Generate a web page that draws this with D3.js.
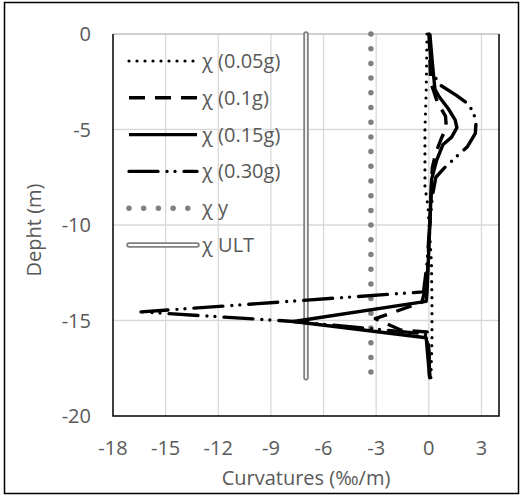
<!DOCTYPE html>
<html>
<head>
<meta charset="utf-8">
<script src="https://cdn.jsdelivr.net/npm/d3@7"></script>
<style>
  body { margin: 0; background: #fff; }
  text { font-family: "Open Sans", sans-serif; fill: #595959; }
</style>
</head>
<body>
<svg id="chart" width="523" height="497"></svg>
<script>
// depths (m) and curvatures (‰/m) per intensity
var depth005 = [0, -3, -5, -8, -9, -12, -14, -16, -18];
var curv005  = [-0.1, -0.15, -0.22, -0.22, -0.05, 0.15, 0.18, 0.18, 0.12];

var depth01 = [0, -2.5, -3.6, -4.3, -4.9, -5.5, -6.2, -7, -9, -13, -14.05, -14.9, -15.5, -15.6, -16.5, -18];
var curv01  = [0.02, 0.1, 0.5, 0.95, 1.0, 0.7, 0.4, 0.2, 0.1, -0.1, -0.4, -3.05, -1.6, -0.1, 0, 0.05];

var depth015 = [0, -1.5, -2.9, -3.3, -3.9, -4.5, -4.9, -5.4, -5.8, -6.6, -7.6, -9, -13.5, -14, -15.05, -15.9, -18];
var curv015  = [0.06, 0.2, 0.35, 0.6, 1.1, 1.5, 1.6, 1.3, 0.8, 0.45, 0.16, 0.1, -0.1, -0.15, -7.7, -0.15, 0.05];

var depth030 = [0, -2, -2.7, -3.2, -3.7, -4.5, -5.2, -5.9, -6.4, -7, -7.5, -8.5, -10, -12, -13.5, -14.55, -15.05, -15.7, -16.5, -18];
var curv030  = [0.02, 0.15, 0.7, 1.55, 2.3, 2.7, 2.65, 2.2, 1.6, 0.9, 0.4, 0.2, 0.05, -0.1, -0.3, -16.4, -7.7, -0.2, 0, 0.05];

var depthLim = [0, -18];
var curvY    = [-3.3, -3.3];
var curvUlt  = [-7, -7];

var xTicks = [-18, -15, -12, -9, -6, -3, 0, 3];
var yTicks = [0, -5, -10, -15, -20];

var svg = d3.select("#chart");
var pL = 113, pR = 499, pT = 34, pB = 416;
var fs = 20;

var x = d3.scaleLinear().domain([-18, 4]).range([pL, pR]);
var y = d3.scaleLinear().domain([0, -20]).range([pT, pB]);

// outer frame
svg.append("rect")
  .attr("x", 4.5).attr("y", 2.5).attr("width", 514).attr("height", 491)
  .attr("fill", "none").attr("stroke", "#000").attr("stroke-width", 1.5);

// grid
svg.append("g").selectAll("line").data(xTicks.filter(function(t){ return t > -18; }))
  .join("line")
  .attr("x1", function(d){ return x(d); }).attr("x2", function(d){ return x(d); })
  .attr("y1", pT).attr("y2", pB)
  .attr("stroke", "#d9d9d9").attr("stroke-width", 1.3);
svg.append("g").selectAll("line").data(yTicks.filter(function(t){ return t > -20 && t < 0; }))
  .join("line")
  .attr("x1", pL).attr("x2", pR)
  .attr("y1", function(d){ return y(d); }).attr("y2", function(d){ return y(d); })
  .attr("stroke", "#d9d9d9").attr("stroke-width", 1.3);
svg.append("line")
  .attr("x1", pL).attr("x2", pR).attr("y1", y(0)).attr("y2", y(0))
  .attr("stroke", "#bfbfbf").attr("stroke-width", 1.5);

// axis lines
svg.append("path")
  .attr("d", "M" + pL + "," + pT + "V" + pB + "H" + pR + "V" + pT)
  .attr("fill", "none").attr("stroke", "#000").attr("stroke-width", 1.5);

// tick labels
svg.append("g").selectAll("text").data(yTicks).join("text")
  .attr("x", 91).attr("y", function(d){ return y(d); })
  .attr("dy", "0.35em").attr("text-anchor", "end")
  .attr("font-size", fs)
  .text(function(d){ return d; });
svg.append("g").selectAll("text").data(xTicks).join("text")
  .attr("x", function(d){ return x(d); }).attr("y", 448)
  .attr("dy", "0.35em").attr("text-anchor", "middle")
  .attr("font-size", fs)
  .text(function(d){ return d; });

svg.append("text")
  .attr("x", 306).attr("y", 478).attr("dy", "0.35em")
  .attr("text-anchor", "middle").attr("font-size", fs)
  .text("Curvatures (‰/m)");
svg.append("text")
  .attr("transform", "translate(34,230) rotate(-90)")
  .attr("dy", "0.35em")
  .attr("text-anchor", "middle").attr("font-size", fs)
  .text("Depht (m)");

// series
var series = [
  { name: "χ (0.05g)", d: depth005, c: curv005, color: "#000", width: 3.2, dash: "0 8", cap: "round" },
  { name: "χ (0.1g)", d: depth01, c: curv01, color: "#000", width: 3.4, dash: "16 10", cap: "butt" },
  { name: "χ (0.15g)", d: depth015, c: curv015, color: "#000", width: 3.4, dash: null, cap: "butt" },
  { name: "χ (0.30g)", d: depth030, c: curv030, color: "#000", width: 3.4, dash: "29 9 0 8 0 9", cap: "round" },
  { name: "χ y", d: depthLim, c: curvY, color: "#808080", width: 5.5, dash: "0 14.7", cap: "round" },
  { name: "χ ULT", d: depthLim, c: curvUlt, color: "#808080", width: 5.5, dash: null, cap: "round", dbl: true }
];

var line = d3.line()
  .x(function(p){ return x(p[0]); })
  .y(function(p){ return y(p[1]); });

function styled(sel, s) {
  sel.attr("fill", "none")
    .attr("stroke", s.color)
    .attr("stroke-width", s.width)
    .attr("stroke-linecap", s.cap)
    .attr("stroke-linejoin", "round")
    .attr("stroke-dasharray", s.dash);
  return sel;
}

var plot = svg.append("g");
// draw the reference limits first, then the curves
[4, 5, 0, 1, 2, 3].forEach(function(i) {
  var s = series[i];
  var pts = d3.zip(s.c, s.d);
  styled(plot.append("path").datum(pts).attr("d", line), s);
  if (s.dbl) {
    plot.append("path").datum(pts).attr("d", line)
      .attr("fill", "none").attr("stroke", "#fff").attr("stroke-width", 1.8)
      .attr("stroke-linecap", "round");
  }
});

// legend
var lg = svg.append("g");
series.forEach(function(s, i) {
  var ly = 61 + i * 36.8;
  styled(lg.append("path").attr("d", "M129," + ly + "H197"), s);
  if (s.dbl) {
    lg.append("path").attr("d", "M129," + ly + "H197")
      .attr("stroke", "#fff").attr("stroke-width", 1.8).attr("stroke-linecap", "round");
  }
  lg.append("text")
    .attr("x", 202).attr("y", ly).attr("dy", "0.35em")
    .attr("font-size", fs)
    .text(s.name);
});
</script>
</body>
</html>
